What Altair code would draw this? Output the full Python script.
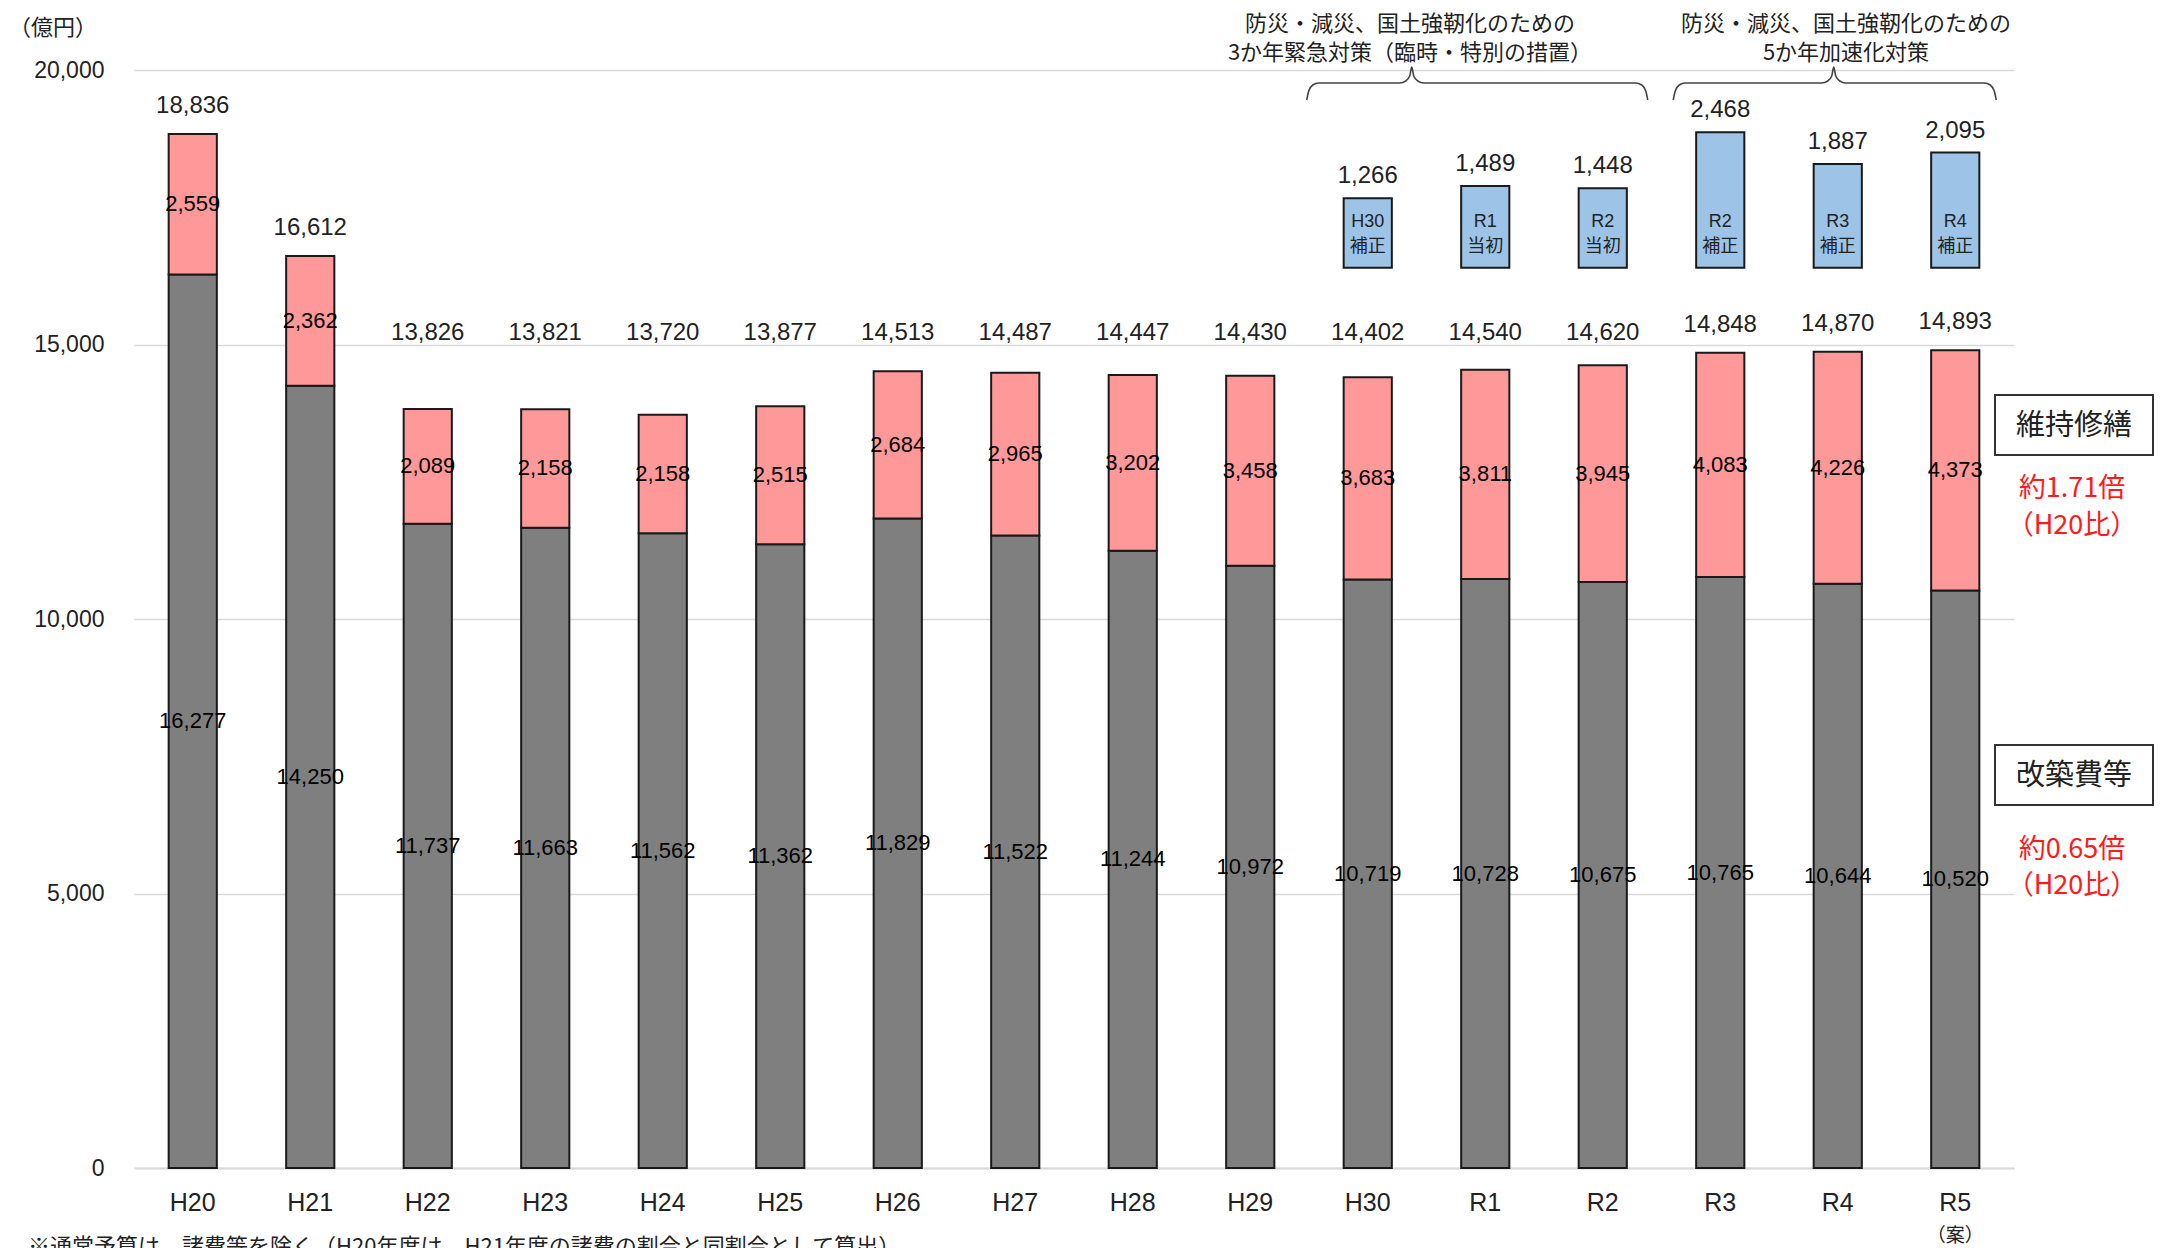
import altair as alt
import pandas as pd

# ---------------- data ----------------
years = ["H20", "H21", "H22", "H23", "H24", "H25", "H26", "H27",
         "H28", "H29", "H30", "R1", "R2", "R3", "R4", "R5"]
kaichiku = [16277, 14250, 11737, 11663, 11562, 11362, 11829, 11522,
            11244, 10972, 10719, 10728, 10675, 10765, 10644, 10520]
iji = [2559, 2362, 2089, 2158, 2158, 2515, 2684, 2965,
       3202, 3458, 3683, 3811, 3945, 4083, 4226, 4373]
totals = [18836, 16612, 13826, 13821, 13720, 13877, 14513, 14487,
          14447, 14430, 14402, 14540, 14620, 14848, 14870, 14893]

extra_years = ["H30", "R1", "R2", "R3", "R4", "R5"]
extra_values = [1266, 1489, 1448, 2468, 1887, 2095]
extra_labels = ["H30\n補正", "R1\n当初", "R2\n当初", "R2\n補正", "R3\n補正", "R4\n補正"]
EXTRA_BASE = 16400

y_ticks = [0, 5000, 10000, 15000, 20000]

# ---------------- layout ----------------
W, H = 1880, 1098
NUM_FONT = "Liberation Sans"
JP_FONT = "Noto Sans CJK JP"
GRAY, PINK, BLUE = "#7F7F7F", "#FF9999", "#9DC3E6"
EDGE = "#1a1a1a"

df = pd.DataFrame({"year": years, "kaichiku": kaichiku, "iji": iji, "total": totals})
ex = pd.DataFrame({"year": extra_years, "value": extra_values, "lab": extra_labels})
ex["base"] = EXTRA_BASE

xs = alt.X("year:N", scale=alt.Scale(domain=years, paddingInner=0.59, paddingOuter=0.295),
           axis=alt.Axis(title=None, labelAngle=0, labelFont=NUM_FONT, labelFontSize=25,
                         labelColor="#222", labelPadding=22, ticks=False, domain=True,
                         domainColor="#D9D9D9", domainWidth=2, grid=False))
ys_scale = alt.Scale(domain=[0, 20000], nice=False, zero=True)

base = alt.Chart(df).transform_calculate(
    top="datum.kaichiku + datum.iji",
    mid_k="datum.kaichiku / 2",
    mid_i="datum.kaichiku + datum.iji / 2",
    label_y="max(datum.total, 14700)",
)

gray = base.mark_bar(color=GRAY, stroke=EDGE, strokeWidth=2).encode(
    x=xs,
    y=alt.Y("kaichiku:Q", scale=ys_scale,
            axis=alt.Axis(title=None, values=y_ticks, labelExpr="format(datum.value, ',')",
                          labelFont=NUM_FONT, labelFontSize=23, labelColor="#222", labelPadding=30,
                          domain=False, ticks=False, gridColor="#D9D9D9", gridWidth=1.5)),
)
pink = base.mark_bar(color=PINK, stroke=EDGE, strokeWidth=2).encode(
    x=alt.X("year:N"), y=alt.Y("kaichiku:Q"), y2="top:Q")

total_txt = base.mark_text(font=NUM_FONT, fontSize=24, color="#222", baseline="middle", dy=-28).encode(
    x="year:N", y="label_y:Q", text=alt.Text("total:Q", format=","))
k_txt = base.mark_text(font=NUM_FONT, fontSize=22, color="#000", baseline="middle").encode(
    x="year:N", y="mid_k:Q", text=alt.Text("kaichiku:Q", format=","))
i_txt = base.mark_text(font=NUM_FONT, fontSize=22, color="#000", baseline="middle").encode(
    x="year:N", y="mid_i:Q", text=alt.Text("iji:Q", format=","))

exb = alt.Chart(ex).transform_calculate(top="datum.base + datum.value")
blue = exb.mark_bar(color=BLUE, stroke=EDGE, strokeWidth=2).encode(
    x="year:N", y="base:Q", y2="top:Q")
blue_val = exb.mark_text(font=NUM_FONT, fontSize=24, color="#222", baseline="middle", dy=-22).encode(
    x="year:N", y="top:Q", text=alt.Text("value:Q", format=","))
blue_lab = exb.mark_text(font=f"{NUM_FONT}, {JP_FONT}", fontSize=18, color="#222", baseline="middle",
                         lineBreak="\n", lineHeight=25, dy=-46).encode(
    x="year:N", y="base:Q", text="lab:N")

an = alt.Chart(pd.DataFrame({"year": ["R5"], "t": ["（案）"]})).mark_text(
    font=JP_FONT, fontSize=19, color="#222", baseline="middle").encode(
    x="year:N", y=alt.value(1166), text="t:N")


def txt(s, x, y, size, color="#222", align="center", lh=30):
    return alt.Chart(pd.DataFrame({"t": [s]})).mark_text(
        font=JP_FONT, fontSize=size, color=color, align=align, baseline="middle",
        lineBreak="\n", lineHeight=lh).encode(x=alt.value(x), y=alt.value(y), text="t:N")


def box(x1, x2, y1, y2):
    return alt.Chart(pd.DataFrame({"a": [0]})).mark_rect(
        fill="white", stroke="#333", strokeWidth=2).encode(
        x=alt.value(x1), x2=alt.value(x2), y=alt.value(y1), y2=alt.value(y2))


annots = [
    txt("（億円）", -125, -42, 22, align="left"),
    txt("防災・減災、国土強靭化のための\n3か年緊急対策（臨時・特別の措置）", 1276, -46, 22, lh=29),
    txt("防災・減災、国土強靭化のための\n5か年加速化対策", 1712, -46, 22, lh=29),
    box(1861, 2019, 325, 385),
    txt("維持修繕", 1940, 356, 29),
    txt("約1.71倍\n（H20比）", 1938, 419, 27, color="#FF1A1A", lh=37),
    box(1861, 2019, 675, 735),
    txt("改築費等", 1940, 706, 29),
    txt("約0.65倍\n（H20比）", 1938, 780, 27, color="#FF1A1A", lh=36),
    txt("※通常予算は、諸費等を除く（H20年度は、H21年度の諸費の割合と同割合として算出）", -106, 1177, 22, align="left"),
]

main = alt.layer(gray, pink, k_txt, i_txt, total_txt, blue, blue_val, blue_lab, an, *annots)

# braces (decoration) built relative to the band geometry
step = W / len(years)


def center(y):
    return step * (years.index(y) + 0.5)


def brace_pts(L, P, R, name):
    pts = [(L, 30), (L + 2, 21), (L + 6, 15), (L + 12, 13), (P - 12, 13), (P - 6, 11), (P - 2, 6),
           (P, -3), (P + 2, 6), (P + 6, 11), (P + 12, 13), (R - 12, 13), (R - 6, 15), (R - 2, 21), (R, 30)]
    return [{"b": name, "i": i, "px": p[0], "py": p[1]} for i, p in enumerate(pts)]


brace_rows = brace_pts(center("H30") - 61, center("H30") + 44, center("R2") + 45, "a") + \
    brace_pts(center("R3") - 47, center("R4") - 4, center("R5") + 41, "b")
braces = alt.Chart(pd.DataFrame(brace_rows)).mark_line(
    color="#444", strokeWidth=1.6, interpolate="monotone").encode(
    x=alt.X("px:Q", scale=None, axis=None), y=alt.Y("py:Q", scale=None, axis=None),
    detail="b:N", order="i:Q")

chart = alt.layer(main, braces).resolve_scale(x="independent", y="independent").properties(
    width=W, height=H,
    padding={"left": 126, "top": 62, "right": 145, "bottom": 80},
    autosize=alt.AutoSizeParams(type="none"),
).configure_view(stroke=None)

chart.save("out.html", embed_options={"renderer": "svg", "actions": False})
